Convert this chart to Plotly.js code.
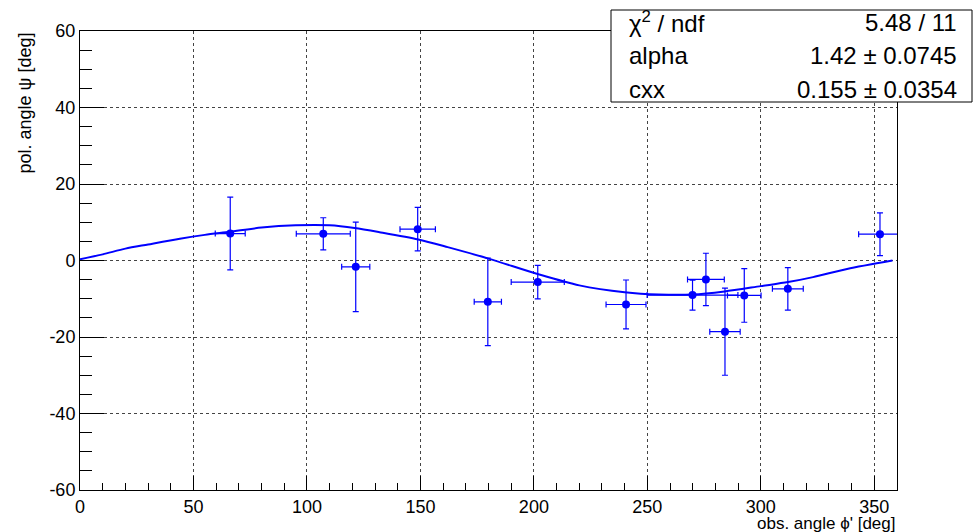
<!DOCTYPE html>
<html>
<head>
<meta charset="utf-8">
<script src="https://cdn.plot.ly/plotly-3.0.1.min.js"></script>
<style>html,body{margin:0;padding:0;background:#fff;}#chart{width:973px;height:532px;}</style>
</head>
<body>
<div id="chart"></div>
<script>
// measured data points
const phi = [66.2, 107.2, 121.5, 148.8, 179.7, 201.7, 240.6, 269.9, 275.8, 284.2, 292.7, 311.9, 352.5];
const psi = [7.05, 6.97, -1.65, 8.2, -10.8, -5.65, -11.5, -9.05, -4.96, -18.6, -9.14, -7.4, 6.87];
const psiErr = [9.5, 4.2, 11.7, 5.7, 11.45, 4.4, 6.4, 3.9, 6.85, 11.4, 7.0, 5.55, 5.6];
const phiErr = [6.6, 11.9, 6.2, 7.8, 6.0, 11.7, 8.8, 20, 8.1, 6.7, 7.4, 6.8, 9.4];

// fit curve
const fitX = [0, 10, 20, 30, 44, 55, 66, 80, 95, 110, 121, 132, 149, 162, 180, 202, 220, 240, 255, 270, 284, 300, 312, 323, 338, 358];
const fitY = [0.3, 1.6, 3.1, 4.2, 5.7, 6.7, 7.5, 8.6, 9.2, 9.2, 8.5, 7.4, 5.5, 3.5, 0.5, -3.6, -6.5, -8.3, -8.9, -8.9, -8.1, -6.7, -5.65, -4.35, -2.2, 0];

// stats box
const statNames = ['χ<sup>2</sup> / ndf', 'alpha', 'cxx'];
const statValues = ['5.48 / 11', '1.42 ± 0.0745', '0.155 ± 0.0354'];

const xTickVals = [0, 50, 100, 150, 200, 250, 300, 350];
const yTickVals = [-60, -40, -20, 0, 20, 40, 60];

const FONT = 'Liberation Sans, Arial, Helvetica, sans-serif';
const BLUE = '#0000ff';

const traces = [
  {
    x: fitX, y: fitY, mode: 'lines', type: 'scatter',
    line: {color: BLUE, width: 2, shape: 'spline', smoothing: 0.8},
    hoverinfo: 'skip', showlegend: false
  },
  {
    x: phi, y: psi, mode: 'markers', type: 'scatter',
    marker: {color: BLUE, size: 8, symbol: 'circle'},
    error_y: {type: 'data', array: psiErr, visible: true, color: BLUE, thickness: 1.2, width: 3},
    error_x: {type: 'data', array: phiErr, visible: true, color: BLUE, thickness: 1.2, width: 3},
    showlegend: false
  }
];

// paper coordinate helpers (plot area: x 80..897, y 31..490)
const px = v => (v - 80) / 817;
const py = v => (490 - v) / 459;

const rowY = [22, 56, 89];
const annotations = [];
statNames.forEach((t, i) => {
  annotations.push({xref: 'paper', yref: 'paper', x: px(627), y: py(rowY[i]), xanchor: 'left', yanchor: 'middle',
    text: t, showarrow: false, font: {family: FONT, size: 24, color: '#000'}});
  annotations.push({xref: 'paper', yref: 'paper', x: px(959), y: py(rowY[i]), xanchor: 'right', yanchor: 'middle',
    text: statValues[i], showarrow: false, font: {family: FONT, size: 24, color: '#000'}});
});
annotations.push({xref: 'paper', yref: 'paper', x: px(24), y: py(31), xanchor: 'center', yanchor: 'top',
  text: 'pol. angle ψ [deg]', textangle: -90, showarrow: false, font: {family: FONT, size: 18, color: '#000'}});
annotations.push({xref: 'paper', yref: 'paper', x: 1, y: py(523), xanchor: 'right', yanchor: 'middle',
  text: "obs. angle ϕ' [deg]", showarrow: false, font: {family: FONT, size: 17, color: '#000'}});

const layout = {
  width: 973, height: 532,
  margin: {l: 80, r: 76, t: 31, b: 42, pad: 0},
  paper_bgcolor: '#fff', plot_bgcolor: '#fff',
  font: {family: FONT, size: 18, color: '#000'},
  xaxis: {
    range: [0, 360], tickvals: xTickVals, ticktext: xTickVals.map(String),
    ticks: 'inside', ticklen: 14, tickwidth: 1, tickcolor: '#000',
    showline: true, linecolor: '#000', linewidth: 1, mirror: true,
    showgrid: true, gridcolor: '#444', griddash: 'dot', gridwidth: 1,
    zeroline: false,
    minor: {dtick: 10, tick0: 0, ticks: 'inside', ticklen: 7, tickcolor: '#000', tickwidth: 1, showgrid: false},
    tickfont: {family: FONT, size: 18, color: '#000'}
  },
  yaxis: {
    range: [-60, 60], tickvals: yTickVals, ticktext: yTickVals.map(String),
    ticks: 'inside', ticklen: 24, tickwidth: 1, tickcolor: '#000',
    showline: true, linecolor: '#000', linewidth: 1, mirror: true,
    showgrid: true, gridcolor: '#444', griddash: 'dot', gridwidth: 1,
    zeroline: false,
    minor: {dtick: 5, tick0: 0, ticks: 'inside', ticklen: 12, tickcolor: '#000', tickwidth: 1, showgrid: false},
    tickfont: {family: FONT, size: 18, color: '#000'}
  },
  shapes: [
    {type: 'rect', xref: 'paper', yref: 'paper', x0: px(611), x1: px(972), y0: py(102), y1: py(10),
      line: {color: '#000', width: 1}, fillcolor: '#fff', layer: 'above'}
  ],
  annotations: annotations
};

Plotly.newPlot('chart', traces, layout, {staticPlot: true});
</script>
</body>
</html>
